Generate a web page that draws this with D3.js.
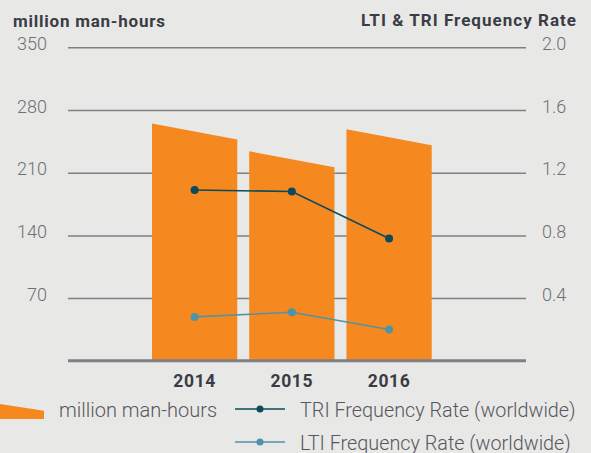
<!DOCTYPE html>
<html>
<head>
<meta charset="utf-8">
<script src="https://cdn.jsdelivr.net/npm/d3@7"></script>
<style>
  html, body { margin: 0; padding: 0; background: #e8e8e6; }
  svg { display: block; }
  text { font-family: Roboto, "Noto Sans", sans-serif; }
</style>
</head>
<body>
<svg id="chart" width="591" height="453"></svg>
<script>
// Years and values
const years = ["2014", "2015", "2016"];
const manHours = [256, 225, 249.5];        // million man-hours (bar height at bar centre)
const triRate = [1.09, 1.08, 0.78];        // TRI frequency rate (worldwide)
const ltiRate = [0.28, 0.31, 0.20];        // LTI frequency rate (worldwide)
const leftTicks = [70, 140, 210, 280, 350];
const rightTicks = [0.4, 0.8, 1.2, 1.6, 2.0];

const W = 591, H = 453;
const plotLeft = 68, plotRight = 526, plotTop = 47.3, plotBottom = 360.8;
const orange = "#f5891f", triColor = "#0c4a5c", ltiColor = "#4f93a6";
const gridColor = "#7e8085", labelColor = "#6e7075", titleColor = "#3a3c45";
const slant = 16; // drop of the bar top from left to right edge, px

const svg = d3.select("#chart");
svg.append("rect").attr("width", W).attr("height", H).attr("fill", "#e8e8e6");

const yL = d3.scaleLinear().domain([0, 350]).range([plotBottom, plotTop]);
const yR = d3.scaleLinear().domain([0, 2]).range([plotBottom, plotTop]);
const x = d3.scaleBand().domain(years).range([146, 437.7])
  .paddingInner(0.123).paddingOuter(0.0617);

// Left axis with gridlines
const gL = svg.append("g").attr("transform", `translate(${plotLeft},0)`)
  .call(d3.axisLeft(yL).tickValues(leftTicks).tickSize(-(plotRight - plotLeft)).tickPadding(21));
gL.select(".domain").remove();
gL.selectAll(".tick line").attr("stroke", gridColor).attr("stroke-width", 1.5);
gL.selectAll(".tick text").attr("fill", labelColor).attr("font-size", 18)
  .attr("font-weight", 300).attr("dy", "0.12em");

// Right axis labels
const gR = svg.append("g").attr("transform", `translate(${plotRight},0)`)
  .call(d3.axisRight(yR).tickValues(rightTicks).tickSize(0).tickPadding(16)
    .tickFormat(d3.format(".1f")));
gR.select(".domain").remove();
gR.selectAll(".tick text").attr("fill", labelColor).attr("font-size", 18)
  .attr("font-weight", 300).attr("dy", "0.12em");

// Bars with slanted tops
svg.append("g").selectAll("polygon").data(years).join("polygon")
  .attr("fill", orange)
  .attr("points", (d, i) => {
    const x0 = x(d), x1 = x(d) + x.bandwidth();
    const yc = yL(manHours[i]);
    return [[x0, plotBottom], [x0, yc - slant / 2], [x1, yc + slant / 2], [x1, plotBottom]]
      .map(p => p.join(",")).join(" ");
  });

// Baseline
svg.append("line").attr("x1", plotLeft).attr("x2", plotRight)
  .attr("y1", plotBottom).attr("y2", plotBottom)
  .attr("stroke", gridColor).attr("stroke-width", 3);

// Bottom axis (years)
const gB = svg.append("g").attr("transform", `translate(0,${plotBottom})`)
  .call(d3.axisBottom(x).tickSize(0).tickPadding(13.5));
gB.select(".domain").remove();
gB.selectAll(".tick text").attr("fill", titleColor).attr("font-size", 17.5)
  .attr("font-weight", 700).attr("letter-spacing", 0.6);

// Rate lines
const cx = d => x(d) + x.bandwidth() / 2;
function rateLine(values, color) {
  const line = d3.line().x((d, i) => cx(years[i])).y(d => yR(d));
  svg.append("path").datum(values).attr("d", line)
    .attr("fill", "none").attr("stroke", color).attr("stroke-width", 1.6);
  svg.append("g").selectAll("circle").data(values).join("circle")
    .attr("cx", (d, i) => cx(years[i])).attr("cy", d => yR(d)).attr("r", 4)
    .attr("fill", color);
}
rateLine(triRate, triColor);
rateLine(ltiRate, ltiColor);

// Axis titles
svg.append("text").attr("x", 13).attr("y", 26.5).attr("fill", titleColor)
  .attr("font-size", 17).attr("font-weight", 700)
  .attr("textLength", 152).attr("lengthAdjust", "spacing")
  .text("million man-hours");
svg.append("text").attr("x", 361).attr("y", 26).attr("fill", titleColor)
  .attr("font-size", 17).attr("font-weight", 700)
  .attr("textLength", 215).attr("lengthAdjust", "spacing")
  .text("LTI & TRI Frequency Rate");

// Legend
const lg = svg.append("g");
lg.append("polygon").attr("fill", orange)
  .attr("points", "-12,402.2 44,410.7 44,419 -12,419");
lg.append("text").attr("x", 59).attr("y", 417).attr("fill", "#55575d")
  .attr("font-size", 20).attr("font-weight", 300).text("million man-hours");

const legendSeries = [
  { label: "TRI Frequency Rate (worldwide)", color: triColor, y: 409 },
  { label: "LTI Frequency Rate (worldwide)", color: ltiColor, y: 442 }
];
legendSeries.forEach(s => {
  lg.append("line").attr("x1", 235).attr("x2", 285).attr("y1", s.y).attr("y2", s.y)
    .attr("stroke", s.color).attr("stroke-width", 1.6);
  lg.append("circle").attr("cx", 260).attr("cy", s.y).attr("r", 3.5).attr("fill", s.color);
  lg.append("text").attr("x", 300).attr("y", s.y + 7.5).attr("fill", "#55575d")
    .attr("font-size", 19.8).attr("font-weight", 300).text(s.label);
});
</script>
</body>
</html>
